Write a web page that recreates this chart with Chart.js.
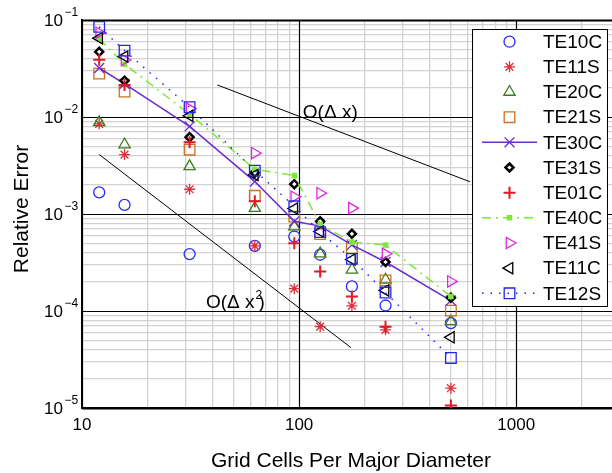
<!DOCTYPE html>
<html>
<head>
<meta charset="utf-8">
<title>Relative Error</title>
<script src="https://cdn.jsdelivr.net/npm/chart.js@4.4.1/dist/chart.umd.min.js"></script>
<style>
    html, body { margin: 0; padding: 0; background: #fff; overflow: hidden; }
    #wrap { width: 612px; height: 473px; }
</style>
</head>
<body>
<div id="wrap"><canvas id="errChart" width="612" height="473"></canvas></div>
<script>
// Datos
const gridCells = [12, 15.7, 31.3, 62.5, 95, 125, 175, 250, 500];

const te10c = [0.00167, 0.00124, 0.000386, 0.00047, 0.000586, 0.00038, 0.000179, 0.000114, 0.000075];
const te11s = [0.0085, 0.0041, 0.0018, 0.00047, 0.00017, 0.000069, 0.000113, 0.000064, 0.000016];
const te20c = [0.0088, 0.0052, 0.0031, 0.00115, 0.00074, 0.00039, 0.000266, 0.00021, 0.000078];
const te21s = [0.028, 0.0183, 0.0046, 0.00154, 0.00094, 0.00062, 0.000446, 0.000207, 0.000101];
const te30c = [0.032, 0.022, 0.008, 0.00216, 0.00084, 0.00075, 0.00048, 0.00032, 0.000128];
const te31s = [0.047, 0.0237, 0.0062, 0.00267, 0.00203, 0.00084, 0.000625, 0.00032, 0.000137];
const te01c = [0.039, 0.0214, 0.0055, 0.00135, 0.0005, 0.000256, 0.000141, 0.000069, 0.0000106];
const te40c = [0.064, 0.035, 0.0107, 0.0029, 0.00249, 0.00078, 0.000513, 0.000478, 0.000141];
const te41s = [0.074, 0.0387, 0.0122, 0.00424, 0.00151, 0.00164, 0.00115, 0.000389, 0.000202];
const te11c = [0.065, 0.042, 0.0103, 0.00253, 0.00114, 0.00066, 0.00034, 0.000163, 0.0000535];
const te12s = [0.085, 0.0483, 0.0126, 0.0028, 0.0012, 0.00065, 0.000345, 0.000155, 0.0000328];

// Lineas de referencia O(dx) y O(dx^2)
const orderOneX = [42, 612];
const orderOneY = [0.0214, 0.00215];
const orderTwoX = [12, 173];
const orderTwoY = [0.0041, 0.000042];

// Etiquetas de los ejes
const xTickLabels = [10, 100, 1000];
const yTickExps = [-1, -2, -3, -4, -5];

const FONT = '"Liberation Sans", Arial, Helvetica, sans-serif';

function toPoints(xs, ys) {
    return xs.map((x, i) => ({x: x, y: ys[i]}));
}

function isDecade(v) {
    const l = Math.log10(v);
    return Math.abs(l - Math.round(l)) < 1e-9;
}

// Solo 1..9 x 10^k (quitar 15, 150 y el ultimo tick en max)
function cleanLogTicks(scale) {
    scale.ticks = scale.ticks.filter(t => {
        const m = t.value / Math.pow(10, Math.floor(Math.log10(t.value) + 1e-9));
        return Math.abs(m - Math.round(m)) < 1e-6;
    });
}

function series(label, values, style) {
    return Object.assign({
        label: label,
        data: toPoints(gridCells, values),
        showLine: false,
        pointBackgroundColor: 'rgba(0,0,0,0)',
        pointBorderWidth: 1.3
    }, style);
}

const datasets = [
    series('TE10C', te10c, {pointStyle: 'circle', pointRadius: 5.5, pointBorderColor: '#2b2bff', borderColor: '#2b2bff'}),
    series('TE11S', te11s, {pointStyle: 'star', pointRadius: 5.5, pointBorderColor: '#e0303a', borderColor: '#e0303a'}),
    series('TE20C', te20c, {pointStyle: 'triangle', pointRadius: 6.5, pointBorderColor: '#3d7a1e', borderColor: '#3d7a1e'}),
    series('TE21S', te21s, {pointStyle: 'rect', pointRadius: 7.5, pointBorderColor: '#c8731e', borderColor: '#c8731e'}),
    series('TE30C', te30c, {pointStyle: 'crossRot', pointRadius: 7, pointBorderColor: '#6a2cd0', borderColor: '#6a2cd0',
        showLine: true, borderWidth: 1.5}),
    series('TE31S', te31s, {pointStyle: 'rectRot', pointRadius: 4, pointBorderColor: '#000', pointBackgroundColor: '#fff',
        pointBorderWidth: 2.5, borderColor: '#000'}),
    series('TE01C', te01c, {pointStyle: 'cross', pointRadius: 6, pointBorderColor: '#dd1a25', pointBorderWidth: 2,
        borderColor: '#dd1a25'}),
    series('TE40C', te40c, {pointStyle: 'rect', pointRadius: 3, pointBorderColor: '#7ee83a', pointBackgroundColor: '#7ee83a',
        borderColor: '#7ee83a', showLine: true, borderWidth: 1.5, borderDash: [9, 5, 2, 5]}),
    series('TE41S', te41s, {pointStyle: 'triangle', pointRotation: 90, pointRadius: 6.5, pointBorderColor: '#e028e0',
        borderColor: '#e028e0'}),
    series('TE11C', te11c, {pointStyle: 'triangle', pointRotation: -90, pointRadius: 6.5, pointBorderColor: '#000',
        borderColor: '#000'}),
    series('TE12S', te12s, {pointStyle: 'rect', pointRadius: 7.5, pointBorderColor: '#2424f0', borderColor: '#2424f0',
        showLine: true, borderWidth: 1.5, borderDash: [1.5, 7]})
];

// los ultimos encima, como en la figura
datasets.forEach((d, i) => { d.order = 20 - i; });

const refLines = [
    {label: 'O(dx)', data: toPoints(orderOneX, orderOneY)},
    {label: 'O(dx2)', data: toPoints(orderTwoX, orderTwoY)}
].map(d => Object.assign(d, {showLine: true, pointRadius: 0, borderColor: '#000', borderWidth: 1, order: 50}));

// Lineas de decada en negro por encima de las grises
const majorGrid = {
    id: 'majorGrid',
    beforeDatasetsDraw(chart) {
        const ctx = chart.ctx;
        const area = chart.chartArea;
        ctx.save();
        ctx.strokeStyle = '#000';
        ctx.lineWidth = 1.2;
        chart.scales.x.ticks.filter(t => isDecade(t.value)).forEach(t => {
            const px = Math.round(chart.scales.x.getPixelForValue(t.value)) + 0.5;
            ctx.beginPath();
            ctx.moveTo(px, area.top);
            ctx.lineTo(px, area.bottom);
            ctx.stroke();
        });
        chart.scales.y.ticks.filter(t => isDecade(t.value)).forEach(t => {
            const py = Math.round(chart.scales.y.getPixelForValue(t.value)) + 0.5;
            ctx.lineWidth = (t.value === 0.1 || t.value === 1e-5) ? 2 : 1.2;
            ctx.beginPath();
            ctx.moveTo(area.left, py);
            ctx.lineTo(area.right, py);
            ctx.stroke();
        });
        ctx.restore();
    }
};

// Textos, etiquetas y leyenda
const decorations = {
    id: 'decorations',
    afterDraw(chart) {
        const ctx = chart.ctx;
        const xs = chart.scales.x;
        const ys = chart.scales.y;
        ctx.save();
        ctx.fillStyle = '#000';

        // etiquetas eje x
        ctx.font = '17px ' + FONT;
        ctx.textAlign = 'center';
        ctx.textBaseline = 'middle';
        xTickLabels.forEach(v => ctx.fillText(String(v), xs.getPixelForValue(v), 425));

        // etiquetas eje y, 10^k
        yTickExps.forEach(e => {
            const py = ys.getPixelForValue(Math.pow(10, e));
            ctx.font = '17px ' + FONT;
            ctx.textAlign = 'right';
            ctx.fillText('10', 63, py + 1);
            ctx.font = '12px ' + FONT;
            ctx.textAlign = 'left';
            ctx.fillText('\u2212' + Math.abs(e), 64.5, py - 7);
        });

        // titulos de los ejes
        ctx.font = '21px ' + FONT;
        ctx.textAlign = 'center';
        ctx.fillText('Grid Cells Per Major Diameter', 351, 461);
        ctx.save();
        ctx.translate(22, 209);
        ctx.rotate(-Math.PI / 2);
        ctx.fillText('Relative Error', 0, 0);
        ctx.restore();

        // anotaciones de orden
        ctx.font = '19px ' + FONT;
        ctx.textAlign = 'left';
        ctx.textBaseline = 'alphabetic';
        ctx.fillText('O(\u0394 x)', xs.getPixelForValue(104), ys.getPixelForValue(0.01) + 1);
        const ax = xs.getPixelForValue(37.2);
        const ay = ys.getPixelForValue(0.0001) - 3;
        const base = 'O(\u0394 x';
        ctx.fillText(base, ax, ay);
        const w = ctx.measureText(base).width;
        ctx.font = '12px ' + FONT;
        ctx.fillText('2', ax + w + 1, ay - 9);
        ctx.font = '19px ' + FONT;
        ctx.fillText(')', ax + w + 4, ay);

        drawLegend(ctx);
        ctx.restore();
    }
};

function drawLegend(ctx) {
    const left = 472.5, top = 29.5, width = 135, height = 277;
    ctx.fillStyle = '#fff';
    ctx.fillRect(left, top, width, height);
    ctx.strokeStyle = '#000';
    ctx.lineWidth = 1;
    ctx.setLineDash([]);
    ctx.strokeRect(left, top, width, height);

    datasets.forEach((d, i) => {
        const y = 41.7 + i * 25.16;
        if (d.showLine) {
            ctx.save();
            ctx.strokeStyle = d.borderColor;
            ctx.lineWidth = d.borderWidth;
            ctx.setLineDash(d.borderDash || []);
            ctx.beginPath();
            ctx.moveTo(482, y);
            ctx.lineTo(537, y);
            ctx.stroke();
            ctx.restore();
        }
        ctx.save();
        ctx.setLineDash([]);
        ctx.strokeStyle = d.pointBorderColor;
        ctx.fillStyle = d.pointBackgroundColor;
        ctx.lineWidth = d.pointBorderWidth;
        Chart.helpers.drawPoint(ctx, {
            pointStyle: d.pointStyle,
            rotation: d.pointRotation || 0,
            radius: d.pointRadius,
            borderWidth: d.pointBorderWidth
        }, 509.5, y);
        ctx.restore();

        ctx.fillStyle = '#000';
        ctx.font = '19px ' + FONT;
        ctx.textAlign = 'left';
        ctx.textBaseline = 'middle';
        ctx.fillText(d.label, 543, y + 1);
    });
}

// las de decada las pinta majorGrid
function gridColor(c) {
    return isDecade(c.tick.value) ? 'rgba(0,0,0,0)' : '#d2d2d2';
}

const ctx = document.getElementById('errChart').getContext('2d');
new Chart(ctx, {
    type: 'scatter',
    data: {datasets: datasets.concat(refLines)},
    options: {
        responsive: false,
        animation: false,
        events: [],
        layout: {autoPadding: false, padding: {left: 0, top: 20, right: 0, bottom: 0}},
        plugins: {legend: {display: false}, tooltip: {enabled: false}},
        scales: {
            x: {
                type: 'logarithmic',
                min: 10,
                max: 2760,
                ticks: {display: false},
                grid: {color: gridColor, lineWidth: 1.3, drawTicks: false},
                border: {display: true, color: '#000', width: 2},
                afterBuildTicks: cleanLogTicks,
                afterFit: s => { s.height = 65; }
            },
            y: {
                type: 'logarithmic',
                min: 1e-5,
                max: 0.1,
                ticks: {display: false},
                grid: {color: gridColor, lineWidth: 1.3, drawTicks: false},
                border: {display: true, color: '#000', width: 2},
                afterBuildTicks: cleanLogTicks,
                afterFit: s => { s.width = 82; }
            }
        }
    },
    plugins: [majorGrid, decorations]
});
</script>
</body>
</html>
